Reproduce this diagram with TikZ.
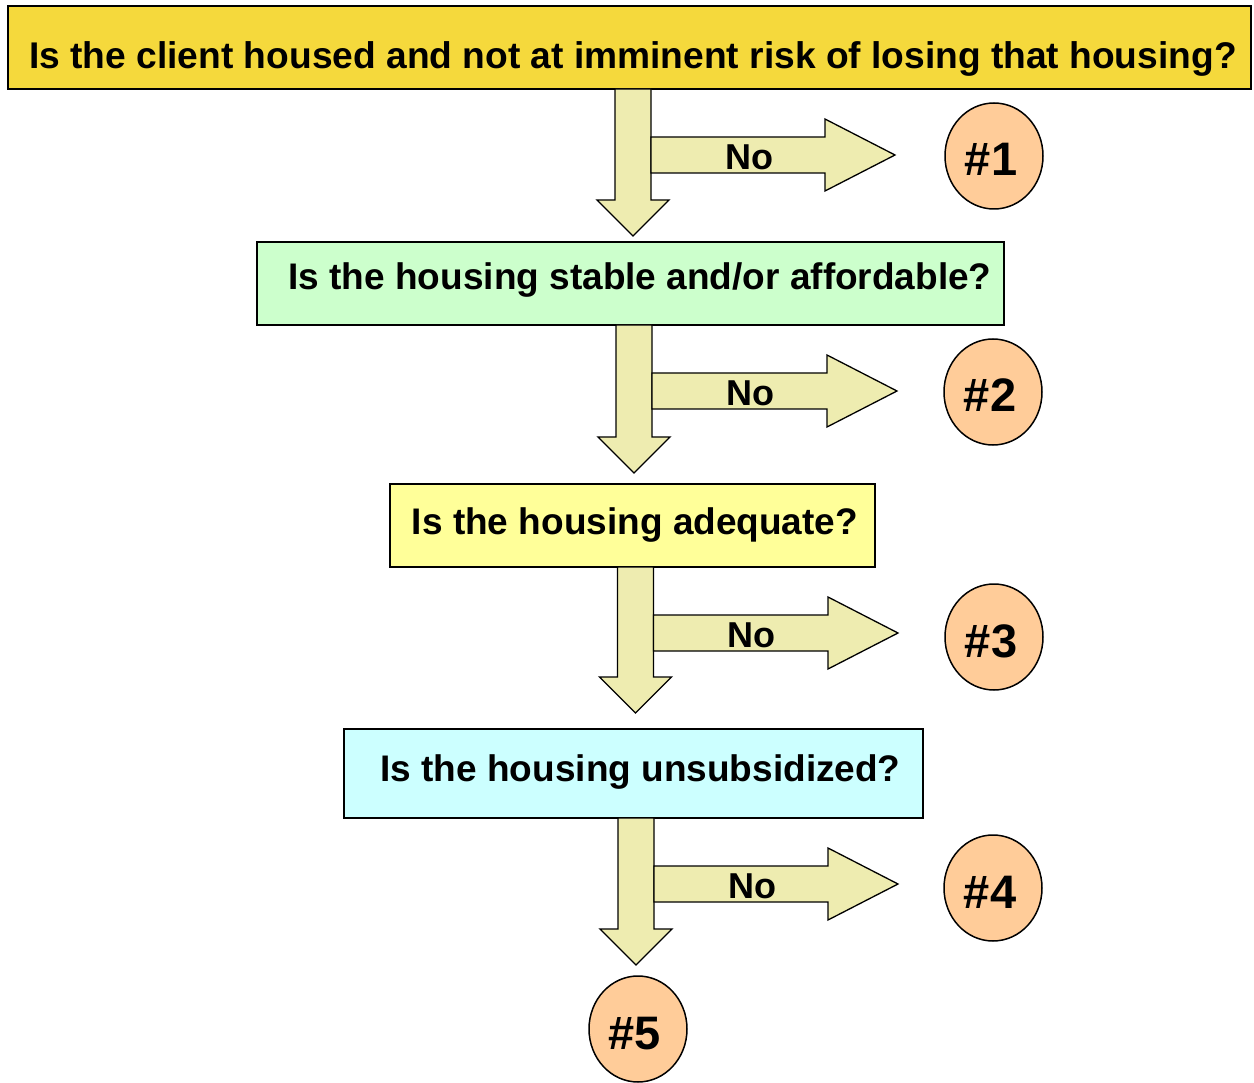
\documentclass[tikz,border=0pt]{standalone}
\usepackage{fontspec}
\setmainfont{Liberation Sans}
\usetikzlibrary{shapes.geometric}
\definecolor{boxyellow}{HTML}{F5D93C}
\definecolor{boxgreen}{HTML}{CCFFCC}
\definecolor{boxpale}{HTML}{FFFF99}
\definecolor{boxcyan}{HTML}{CCFFFF}
\definecolor{arrfill}{HTML}{EEECB0}
\definecolor{circfill}{HTML}{FFCC99}
\tikzset{
  qbox/.style={draw=black, line width=1.6pt, inner sep=0pt, font=\fontsize{37}{44}\selectfont\bfseries, text height=26.5pt},
  arr/.style={draw=black, line width=1.3pt, fill=arrfill, line join=miter},
  outcome/.style={ellipse, draw=black, line width=1.5pt, fill=circfill, minimum width=98pt, minimum height=106pt, inner sep=0pt, font=\fontsize{47}{52}\selectfont\bfseries, text height=40pt, text depth=0pt},
  nolabel/.style={font=\fontsize{36}{40}\selectfont\bfseries, inner sep=0pt}
}
% #1 centre x, #2 top y, #3 tip y, #4 right tip x, #5 name suffix
\newcommand{\flowarr}[5]{%
  \draw[arr] ({#1-18},{#2}) -- ({#1+18},{#2}) -- ({#1+18},{#3-36}) -- ({#1+36},{#3-36}) -- ({#1},{#3}) -- ({#1-36},{#3-36}) -- ({#1-18},{#3-36}) -- cycle;
  \draw[arr] ({#1+18},{#2+48}) -- ({#4-70},{#2+48}) -- ({#4-70},{#2+30}) -- ({#4},{#2+66}) -- ({#4-70},{#2+102}) -- ({#4-70},{#2+84}) -- ({#1+18},{#2+84}) -- cycle;
  \node[nolabel] (no#5) at ({#1+116},{#2+68}) {No};
}
\newcommand{\outtext}[1]{\hspace*{-6pt}\#{#1}}
\begin{document}
\begin{tikzpicture}[x=1pt, y=-1pt]
\useasboundingbox (0,0) rectangle (1254,1083);

\node[qbox, fill=boxyellow, minimum width=1243pt, minimum height=83pt, text height=42pt, text depth=0pt, font=\fontsize{37.15}{44}\selectfont\bfseries] (q1) at (629.5,47.5)
  {\hspace*{7pt}Is the client housed and not at imminent risk of losing that housing?};
\node[qbox, fill=boxgreen, minimum width=747pt, minimum height=83pt, text depth=14pt] (q2) at (630.5,283.5)
  {\hspace*{19pt}Is the housing stable and/or affordable?};
\node[qbox, fill=boxpale, minimum width=485pt, minimum height=83pt, text depth=9pt] (q3) at (632.5,525.5)
  {\hspace*{5pt}Is the housing adequate?};
\node[qbox, fill=boxcyan, minimum width=579pt, minimum height=89pt, text depth=10pt] (q4) at (633.5,773.5)
  {\hspace*{14pt}Is the housing unsubsidized?};

\flowarr{633}{89}{236}{895}{1}
\flowarr{634}{325}{473}{897}{2}
\flowarr{635.5}{567}{713}{898}{3}
\flowarr{636}{818}{965}{898}{4}

\node[outcome] (c1) at (994,156) {\outtext{1}};
\node[outcome] (c2) at (993,392) {\outtext{2}};
\node[outcome] (c3) at (994,637) {\outtext{3}};
\node[outcome] (c4) at (993,888) {\outtext{4}};
\node[outcome] (c5) at (638,1029) {\outtext{5}};
\end{tikzpicture}
\end{document}
